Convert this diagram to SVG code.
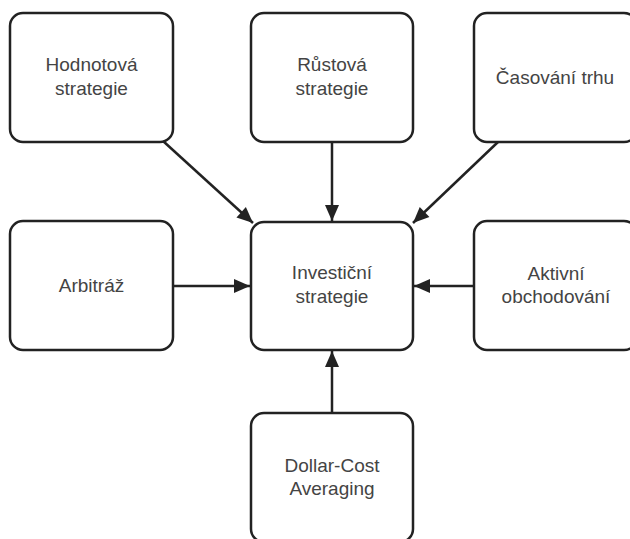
<svg xmlns="http://www.w3.org/2000/svg" width="630" height="539" viewBox="0 0 630 539">
<style>
.box{fill:#fff;stroke:#222;stroke-width:2.5}
.t{font-family:"Liberation Sans",Arial,sans-serif;font-size:19px;fill:#444;text-anchor:middle}
.c{stroke:#222;stroke-width:2.5;fill:none}
</style>
<defs>
<marker id="ah" markerUnits="userSpaceOnUse" markerWidth="20" markerHeight="20" viewBox="0 0 20 20" refX="18" refY="10" orient="auto">
<path d="M2,3 L18,10 L2,17 Z" fill="#222"/>
</marker>
</defs>
<rect width="630" height="539" fill="#fff"/>
<g id="connectors">
<line class="c" x1="163" y1="141" x2="253" y2="223" marker-end="url(#ah)"/>
<line class="c" x1="332" y1="142" x2="332" y2="221" marker-end="url(#ah)"/>
<line class="c" x1="498" y1="142" x2="413" y2="223" marker-end="url(#ah)"/>
<line class="c" x1="173" y1="286" x2="250" y2="286" marker-end="url(#ah)"/>
<line class="c" x1="474" y1="286" x2="414" y2="286" marker-end="url(#ah)"/>
<line class="c" x1="332" y1="413" x2="332" y2="351" marker-end="url(#ah)"/>
</g>
<g id="hodnotova">
<rect class="box" x="10" y="13" width="163" height="129" rx="13"/>
<text class="t" x="91.5" y="71">Hodnotová</text>
<text class="t" x="91.5" y="95">strategie</text>
</g>
<g id="rustova">
<rect class="box" x="251" y="13" width="162" height="129" rx="13"/>
<text class="t" x="332" y="71">Růstová</text>
<text class="t" x="332" y="95">strategie</text>
</g>
<g id="casovani">
<rect class="box" x="474" y="13" width="163" height="129" rx="13"/>
<text class="t" x="555" y="84">Časování trhu</text>
</g>
<g id="arbitraz">
<rect class="box" x="10" y="221" width="163" height="129" rx="13"/>
<text class="t" x="91.5" y="292">Arbitráž</text>
</g>
<g id="investicni">
<rect class="box" x="251" y="222" width="162" height="128" rx="13"/>
<text class="t" x="332" y="279">Investiční</text>
<text class="t" x="332" y="303">strategie</text>
</g>
<g id="aktivni">
<rect class="box" x="474" y="221" width="163" height="129" rx="13"/>
<text class="t" x="556" y="280">Aktivní</text>
<text class="t" x="556" y="303">obchodování</text>
</g>
<g id="dollar">
<rect class="box" x="251" y="413" width="162" height="129" rx="13"/>
<text class="t" x="332" y="472">Dollar-Cost</text>
<text class="t" x="332" y="495">Averaging</text>
</g>
</svg>
